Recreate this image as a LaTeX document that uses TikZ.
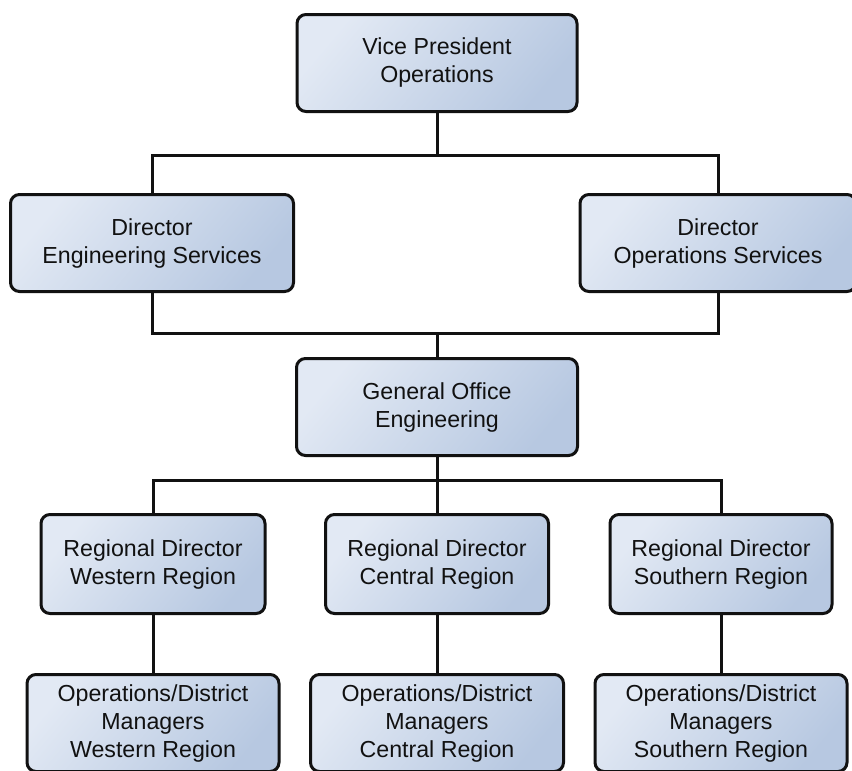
\documentclass[tikz,border=0pt]{standalone}
\usepackage{fontspec}
\setmainfont{Liberation Sans}
\definecolor{boxlight}{HTML}{E2E9F4}
\definecolor{boxdark}{HTML}{B7C8E1}
\definecolor{ink}{HTML}{111111}
\tikzset{
  orgbox/.style={draw=ink, line width=3pt, rounded corners=9pt,
    top color=boxlight, bottom color=boxdark, shading angle=50,
    align=center, inner sep=0pt, minimum height=97pt,
    font=\fontsize{23.2}{28}\selectfont, text=ink},
  link/.style={draw=ink, line width=3pt}
}
\begin{document}
\begin{tikzpicture}[x=1pt,y=-1pt]
\useasboundingbox (0,0) rectangle (852,771);
\clip (0,0) rectangle (852,771);
\fill[white] (0,0) rectangle (852,771);

% levels of the chart
\node[orgbox, minimum width=280pt] (vp)  at (437,63)  {Vice President\\Operations};
\node[orgbox, minimum width=283pt] (des) at (152,243) {Director\\Engineering Services};
\node[orgbox, minimum width=276pt] (dos) at (718,243) {Director\\Operations Services};
\node[orgbox, minimum width=281pt] (goe) at (437,407) {General Office\\Engineering};
\node[orgbox, minimum width=224pt, minimum height=99pt] (rdw) at (153,564) {Regional Director\\Western Region};
\node[orgbox, minimum width=223pt, minimum height=99pt] (rdc) at (437,564) {Regional Director\\Central Region};
\node[orgbox, minimum width=222pt, minimum height=99pt] (rds) at (721,564) {Regional Director\\Southern Region};
\node[orgbox, minimum width=252pt] (mw) at (153,723) {Operations/District\\Managers\\Western Region};
\node[orgbox, minimum width=253pt] (mc) at (437,723) {Operations/District\\Managers\\Central Region};
\node[orgbox, minimum width=252pt] (ms) at (721,723) {Operations/District\\Managers\\Southern Region};

% junction points of the connector bars
\coordinate (j1) at (437,155);
\coordinate (j2) at (437,333);
\coordinate (j3) at (437,480);

\draw[link] (vp.south) -- (j1);
\draw[link] (des.north) -- (des.north |- j1) -- (dos.north |- j1) -- (dos.north);
\draw[link] (des.south) -- (des.south |- j2) -- (dos.south |- j2) -- (dos.south);
\draw[link] (j2) -- (goe.north);
\draw[link] (goe.south) -- (j3);
\draw[link] (rdw.north) -- (rdw.north |- j3) -- (rds.north |- j3) -- (rds.north);
\draw[link] (j3) -- (rdc.north);
\draw[link] (rdw.south) -- (mw.north);
\draw[link] (rdc.south) -- (mc.north);
\draw[link] (rds.south) -- (ms.north);
\end{tikzpicture}
\end{document}
